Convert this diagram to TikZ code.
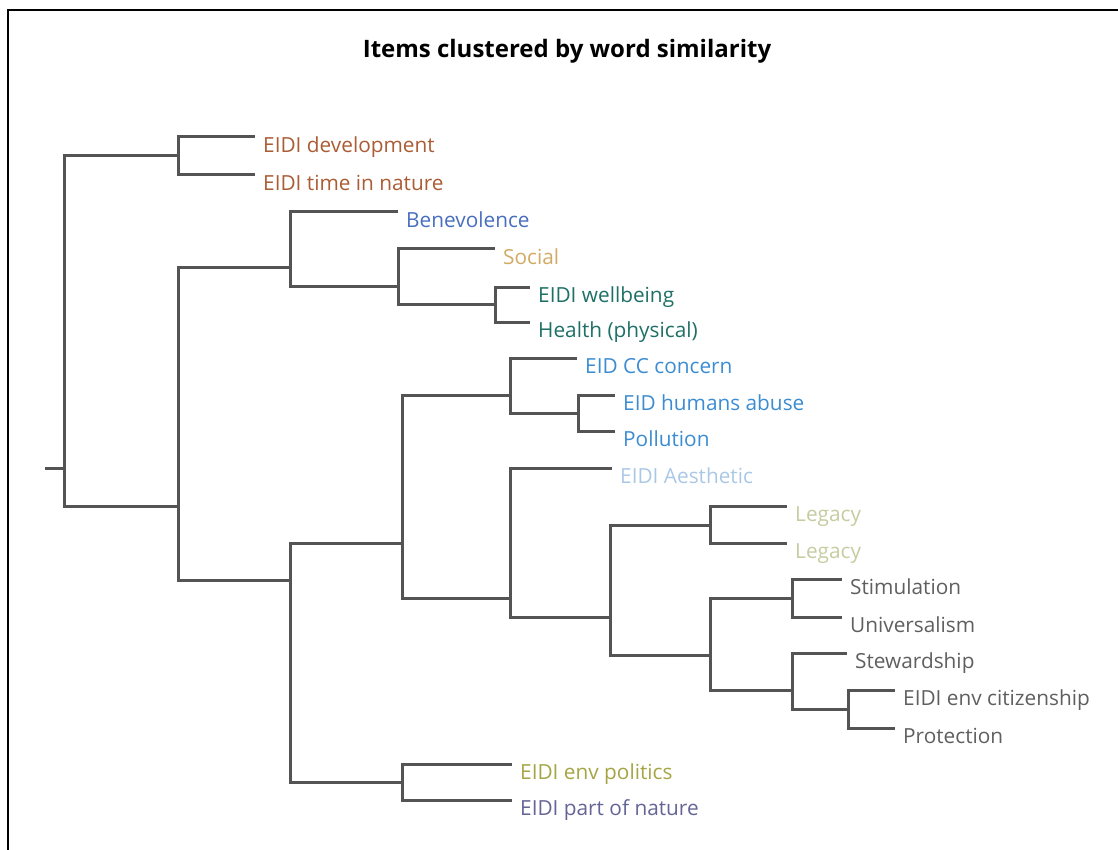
\documentclass[tikz,border=0pt]{standalone}
\usepackage{fontspec}
\setmainfont{Open Sans}
\definecolor{linegrey}{RGB}{84,84,84}
\definecolor{cbrown}{RGB}{170,92,52}
\definecolor{cbenev}{RGB}{72,110,190}
\definecolor{csocial}{RGB}{210,170,100}
\definecolor{cteal}{RGB}{30,112,102}
\definecolor{cblue}{RGB}{60,140,210}
\definecolor{cpale}{RGB}{170,200,230}
\definecolor{clegacy}{RGB}{198,204,160}
\definecolor{cgrey}{RGB}{95,95,95}
\definecolor{colive}{RGB}{165,165,70}
\definecolor{cslate}{RGB}{100,100,150}
\begin{document}
\begin{tikzpicture}[x=1pt,y=-1pt,
  link/.style={draw=linegrey,line width=3pt,line join=miter},
  leaf/.style={anchor=north west,inner xsep=8pt,inner ysep=0pt,
    text height=15pt,text depth=4pt,font=\fontsize{20.8}{24}\selectfont}]
\useasboundingbox (0,0) rectangle (1118,850);
% frame
\draw[black,line width=2pt] (7.5,850) -- (7.5,10.5) -- (1118,10.5);
% title
\node[font=\bfseries\fontsize{24}{28}\selectfont,anchor=base] (title) at (567,58) {Items clustered by word similarity};

% cluster junctions
\coordinate (stub) at (45,468);
\coordinate (n0) at (64,468);
\coordinate (n1) at (178,156);
\coordinate (n2) at (178,506);
\coordinate (n3) at (290,267);
\coordinate (n4) at (398,286);
\coordinate (n5) at (495,304);
\coordinate (n6) at (290,580);
\coordinate (n7) at (402,543);
\coordinate (n8) at (510,395);
\coordinate (n9) at (578,413);
\coordinate (n10) at (510,598);
\coordinate (n11) at (610,617);
\coordinate (n12) at (710,525);
\coordinate (n13) at (710,655);
\coordinate (n14) at (792,598);
\coordinate (n15) at (792,690);
\coordinate (n16) at (848,709);
\coordinate (n17) at (402,782);

% leaves
\node[leaf,text=cbrown] (l1) at (255,137) {EIDI development};
\node[leaf,text=cbrown] (l2) at (255,175) {EIDI time in nature};
\node[leaf,text=cbenev] (l3) at (398,212) {Benevolence};
\node[leaf,text=csocial] (l4) at (495,249) {Social};
\node[leaf,text=cteal] (l5) at (530,287) {EIDI wellbeing};
\node[leaf,text=cteal] (l6) at (530,322) {Health (physical)};
\node[leaf,text=cblue] (l7) at (577,358) {EID CC concern};
\node[leaf,text=cblue] (l8) at (615,395) {EID humans abuse};
\node[leaf,text=cblue] (l9) at (615,431) {Pollution};
\node[leaf,text=cpale] (l10) at (612,468) {EIDI Aesthetic};
\node[leaf,text=clegacy] (l11) at (787,506) {Legacy};
\node[leaf,text=clegacy] (l12) at (787,543) {Legacy};
\node[leaf,text=cgrey] (l13) at (842,579) {Stimulation};
\node[leaf,text=cgrey] (l14) at (842,617) {Universalism};
\node[leaf,text=cgrey] (l15) at (847,653) {Stewardship};
\node[leaf,text=cgrey] (l16) at (895,690) {EIDI env citizenship};
\node[leaf,text=cgrey] (l17) at (895,728) {Protection};
\node[leaf,text=colive] (l18) at (512,764) {EIDI env politics};
\node[leaf,text=cslate] (l19) at (512,800) {EIDI part of nature};

% branches between junctions
\draw[link] (stub) -- (n0);
\foreach \p/\c in {n0/n1,n0/n2,n2/n3,n2/n6,n3/n4,n4/n5,n6/n7,n6/n17,
  n7/n8,n7/n10,n8/n9,n10/n11,n11/n12,n11/n13,n13/n14,n13/n15,n15/n16}
  \draw[link] (\p) |- (\c);
% branches to leaves
\foreach \p/\c in {n1/l1,n1/l2,n3/l3,n4/l4,n5/l5,n5/l6,n8/l7,n9/l8,n9/l9,
  n10/l10,n12/l11,n12/l12,n14/l13,n14/l14,n15/l15,n16/l16,n16/l17,
  n17/l18,n17/l19}
  \draw[link] (\p) |- (\c.north west);
\end{tikzpicture}
\end{document}
